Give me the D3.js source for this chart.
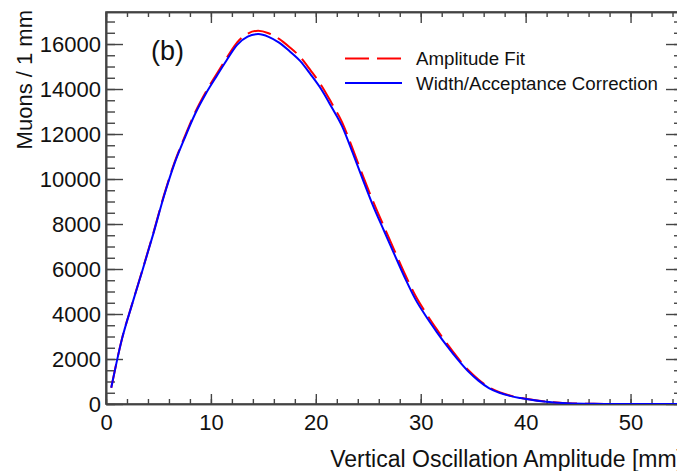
<!DOCTYPE html>
<html>
<head>
<meta charset="utf-8">
<script src="https://cdn.jsdelivr.net/npm/d3@7"></script>
<style>
  body { margin: 0; background: #fff; }
  svg text { font-family: "Liberation Sans", Arial, Helvetica, sans-serif; fill: #111; }
  .axis .domain { stroke: #444; stroke-width: 1.6; }
  .axis line { stroke: #444; stroke-width: 1.4; }
</style>
</head>
<body>
<div id="graphicContainer"></div>
<script>

// amplitude bin centres [mm]
var amplitude = [0.5, 1.5, 2.5, 3.5, 4.5, 5.5, 6.5, 7.5, 8.5, 9.5,
	10.5, 11.5, 12.5, 13.5, 14.5, 15.5, 16.5, 17.5, 18.5, 19.5,
	20.5, 21.5, 22.5, 23.5, 24.5, 25.5, 26.5, 27.5, 28.5, 29.5,
	30.5, 31.5, 32.5, 33.5, 34.5, 35.5, 36.5, 37.5, 38.5, 39.5,
	40.5, 41.5, 42.5, 43.5, 44.5, 45.5, 46.5, 47.5, 48.5, 49.5,
	50.5, 51.5, 52.5, 53.5, 54.5]

// "Amplitude Fit" (red dashed)
var amplitudeFit = [720, 2860, 4460, 6000, 7580, 9240, 10700, 11880, 12970, 13860,
	14630, 15380, 16070, 16460, 16590, 16480, 16230, 15860, 15430, 14830,
	14180, 13380, 12530, 11360, 10130, 8960, 7880, 6820, 5770, 4810,
	4040, 3340, 2680, 2070, 1520, 1090, 745, 525, 378, 278,
	198, 130, 81, 47, 27, 16, 9, 5, 3, 2,
	1, 1, 1, 0, 0]

// "Width/Acceptance Correction" (blue solid)
var widthCorrection = [720, 2850, 4450, 5980, 7550, 9200, 10650, 11820, 12900, 13780,
	14540, 15280, 15960, 16330, 16440, 16320, 16060, 15680, 15250, 14650,
	14000, 13200, 12350, 11180, 9950, 8760, 7700, 6640, 5600, 4650,
	3900, 3220, 2580, 1990, 1460, 1040, 710, 500, 360, 265,
	190, 125, 78, 45, 26, 15, 9, 5, 3, 2,
	1, 1, 1, 0, 0]

var yTicks = [0, 2000, 4000, 6000, 8000, 10000, 12000, 14000, 16000]
var xTicks = [0, 10, 20, 30, 40, 50]

var legendLabels = ["Amplitude Fit", "Width/Acceptance Correction"]

var width = 677
var height = 471

var margin = {top: 12, right: -6, bottom: 67, left: 106}

var svg = d3.select("#graphicContainer").append("svg")
	.attr("width", width)
	.attr("height", height)

svg.append("rect").attr("width", width).attr("height", height).attr("fill", "#fff")

var x = d3.scaleLinear()
	.domain([0, 55])
	.range([margin.left, width - margin.right])

var y = d3.scaleLinear()
	.domain([0, 17423])
	.range([height - margin.bottom, margin.top])

var x0 = x.range()[0], x1 = x.range()[1]
var y0 = y.range()[0], y1 = y.range()[1]

svg.append("defs").append("clipPath").attr("id", "frameClip")
	.append("rect")
	.attr("x", x0).attr("y", y1)
	.attr("width", x1 - x0).attr("height", y0 - y1)

var xMinor = d3.range(0, 56, 2)
var yMinor = d3.range(0, 17423, 500)

// minor ticks first, majors on top
svg.append("g").attr("class", "axis")
	.attr("transform", "translate(0," + y0 + ")")
	.call(d3.axisBottom(x).tickValues(xMinor).tickSize(-5).tickSizeOuter(0).tickFormat(""))
svg.append("g").attr("class", "axis")
	.attr("transform", "translate(0," + y1 + ")")
	.call(d3.axisTop(x).tickValues(xMinor).tickSize(-5).tickSizeOuter(0).tickFormat(""))
svg.append("g").attr("class", "axis")
	.attr("transform", "translate(" + x0 + ",0)")
	.call(d3.axisLeft(y).tickValues(yMinor).tickSize(-9).tickSizeOuter(0).tickFormat(""))
svg.append("g").attr("class", "axis")
	.attr("transform", "translate(" + x1 + ",0)")
	.call(d3.axisRight(y).tickValues(yMinor).tickSize(-9).tickSizeOuter(0).tickFormat(""))

svg.append("g").attr("class", "axis")
	.attr("transform", "translate(0," + y0 + ")")
	.call(d3.axisBottom(x).tickValues(xTicks).tickSize(-10).tickSizeOuter(0).tickPadding(10).tickFormat(d3.format("d")))

svg.append("g").attr("class", "axis")
	.attr("transform", "translate(0," + y1 + ")")
	.call(d3.axisTop(x).tickValues(xTicks).tickSize(-11).tickSizeOuter(0).tickFormat(""))

svg.append("g").attr("class", "axis")
	.attr("transform", "translate(" + x0 + ",0)")
	.call(d3.axisLeft(y).tickValues(yTicks).tickSize(-17).tickSizeOuter(0).tickPadding(5).tickFormat(d3.format("d")))

svg.append("g").attr("class", "axis")
	.attr("transform", "translate(" + x1 + ",0)")
	.call(d3.axisRight(y).tickValues(yTicks).tickSize(-17).tickSizeOuter(0).tickFormat(""))

svg.selectAll(".axis text")
	.attr("fill", "#111")
	.style("font-size", "22px")

// close the frame
svg.append("rect")
	.attr("x", x0).attr("y", y1)
	.attr("width", x1 - x0).attr("height", y0 - y1)
	.attr("fill", "none")
	.attr("stroke", "#444")
	.attr("stroke-width", 1.6)

var line = d3.line()
	.x((d, i) => x(amplitude[i]))
	.y(d => y(d))
	.curve(d3.curveMonotoneX)

var curves = svg.append("g").attr("clip-path", "url(#frameClip)")

curves.append("path")
	.datum(amplitudeFit)
	.attr("d", line)
	.attr("fill", "none")
	.attr("stroke", "#ff0000")
	.attr("stroke-width", 2)
	.attr("stroke-dasharray", "24 8")

curves.append("path")
	.datum(widthCorrection)
	.attr("d", line)
	.attr("fill", "none")
	.attr("stroke", "#0000ff")
	.attr("stroke-width", 2)

// legend
var legendColors = ["#ff0000", "#0000ff"]
var legendDash = ["24 8", null]
var legendY = [58.5, 83]

legendLabels.forEach(function (label, i) {
	svg.append("line")
		.attr("x1", 345).attr("x2", 402)
		.attr("y1", legendY[i]).attr("y2", legendY[i])
		.attr("stroke", legendColors[i])
		.attr("stroke-width", 2)
		.attr("stroke-dasharray", legendDash[i])
	svg.append("text")
		.attr("x", 416)
		.attr("y", legendY[i] + 6.5)
		.style("font-size", "18.7px")
		.text(label)
})

svg.append("text")
	.attr("x", 151)
	.attr("y", 60)
	.style("font-size", "27px")
	.text("(b)")

svg.append("text")
	.attr("transform", "translate(32,10) rotate(-90)")
	.attr("text-anchor", "end")
	.style("font-size", "22px")
	.text("Muons / 1 mm")

svg.append("text")
	.attr("x", x1)
	.attr("y", 467)
	.attr("text-anchor", "end")
	.style("font-size", "23px")
	.text("Vertical Oscillation Amplitude [mm]")

</script>
</body>
</html>
